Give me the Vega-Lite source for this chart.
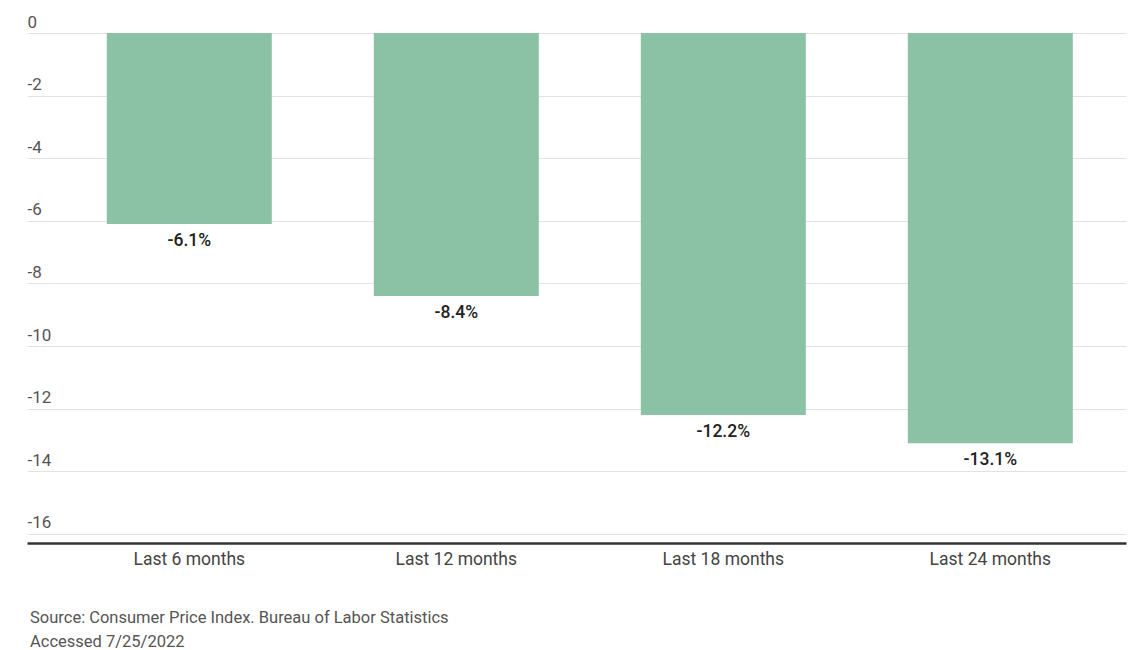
{
  "$schema": "https://vega.github.io/schema/vega-lite/v6.json",
  "width": 1099,
  "height": 510,
  "autosize": {"type": "none"},
  "padding": {"left": 27, "top": 33, "right": 21, "bottom": 107},
  "background": "#ffffff",
  "config": {
    "view": {"stroke": null},
    "font": "Roboto"
  },
  "title": {
    "text": ["Source: Consumer Price Index. Bureau of Labor Statistics", "Accessed 7/25/2022"],
    "orient": "bottom",
    "anchor": "start",
    "frame": "group",
    "offset": 42,
    "dx": 3,
    "font": "Roboto",
    "fontSize": 16.5,
    "fontWeight": "normal",
    "color": "#555555",
    "lineHeight": 24,
    "baseline": "top"
  },
  "data": {
    "values": [
      {"period": "Last 6 months", "value": -6.1},
      {"period": "Last 12 months", "value": -8.4},
      {"period": "Last 18 months", "value": -12.2},
      {"period": "Last 24 months", "value": -13.1}
    ]
  },
  "encoding": {
    "x": {
      "field": "period",
      "type": "nominal",
      "sort": null,
      "scale": {"paddingInner": 0.382, "paddingOuter": 0.249, "align": 0.6},
      "axis": {
        "title": null,
        "labelAngle": 0,
        "labelFont": "Roboto",
        "labelFontSize": 17.5,
        "labelColor": "#444444",
        "labelPadding": 7,
        "ticks": false,
        "grid": false,
        "domainColor": "#333333",
        "domainWidth": 2.5
      }
    },
    "y": {
      "field": "value",
      "type": "quantitative",
      "scale": {"domain": [-16.29, 0], "nice": false, "zero": true},
      "axis": {
        "title": null,
        "values": [0, -2, -4, -6, -8, -10, -12, -14, -16],
        "labelExpr": "'' + datum.value",
        "domain": false,
        "ticks": false,
        "tickSize": 0,
        "labelAlign": "left",
        "labelBaseline": "alphabetic",
        "labelPadding": 0,
        "labelOffset": -6,
        "labelFont": "Roboto",
        "labelFontSize": 17,
        "labelColor": "#555555",
        "gridColor": "#e2e2e2",
        "gridWidth": 1
      }
    }
  },
  "layer": [
    {
      "mark": {"type": "bar", "color": "#8bc1a5"}
    },
    {
      "transform": [{"calculate": "datum.value + '%'", "as": "label"}],
      "mark": {
        "type": "text",
        "baseline": "top",
        "align": "center",
        "dy": 8,
        "font": "Roboto",
        "fontSize": 17.5,
        "fontWeight": 500,
        "color": "#222222"
      },
      "encoding": {
        "text": {"field": "label", "type": "nominal"}
      }
    }
  ]
}
